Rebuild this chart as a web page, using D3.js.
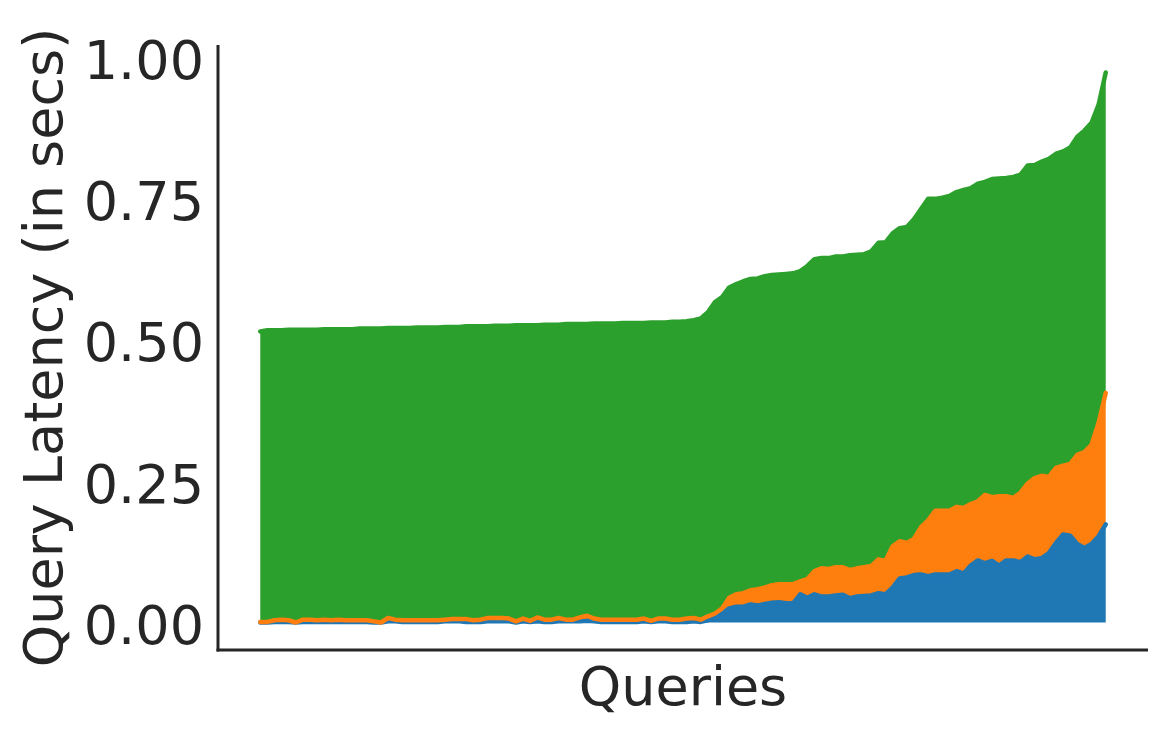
<!DOCTYPE html>
<html><head><meta charset="utf-8">
<script src="https://cdn.jsdelivr.net/npm/d3@7"></script>
<style>body{margin:0;background:#fff}svg{display:block}</style>
</head><body>
<svg id="c" width="1168" height="735"></svg>
<script>
const yTicks = [0, 0.25, 0.5, 0.75, 1.0];
const xLabel = "Queries";
const yLabel = "Query Latency (in secs)";
const seriesNames = ["blue", "orange", "green"];
const seriesColors = ["#1f77b4", "#ff7f0e", "#2ca02c"];

const green = [
0.516,0.518,0.518,0.518,0.519,0.519,0.519,0.519,0.519,0.520,
0.520,0.520,0.520,0.520,0.521,0.521,0.521,0.521,0.522,0.522,
0.522,0.522,0.523,0.523,0.523,0.523,0.524,0.524,0.524,0.525,
0.525,0.525,0.525,0.526,0.526,0.526,0.527,0.527,0.527,0.527,
0.528,0.528,0.528,0.529,0.529,0.529,0.529,0.530,0.530,0.530,
0.530,0.531,0.531,0.531,0.531,0.532,0.532,0.532,0.533,0.533,
0.534,0.536,0.539,0.550,0.568,0.577,0.594,0.600,0.605,0.609,
0.610,0.614,0.616,0.617,0.618,0.619,0.623,0.632,0.644,0.646,
0.646,0.649,0.649,0.651,0.652,0.653,0.658,0.673,0.674,0.690,
0.699,0.701,0.715,0.733,0.751,0.751,0.753,0.756,0.763,0.767,
0.770,0.778,0.781,0.786,0.787,0.788,0.790,0.794,0.810,0.811,
0.817,0.822,0.831,0.835,0.842,0.861,0.872,0.886,0.918,0.975];

const orange = [
0.001,0.001,0.004,0.005,0.004,0.000,0.005,0.005,0.004,0.005,
0.004,0.005,0.004,0.004,0.004,0.004,0.002,0.000,0.008,0.005,
0.004,0.004,0.004,0.004,0.004,0.004,0.005,0.006,0.006,0.006,
0.004,0.005,0.008,0.008,0.008,0.007,0.002,0.007,0.003,0.009,
0.005,0.005,0.008,0.005,0.005,0.009,0.012,0.007,0.005,0.005,
0.005,0.005,0.005,0.005,0.007,0.003,0.007,0.007,0.005,0.005,
0.007,0.008,0.005,0.011,0.016,0.025,0.044,0.050,0.052,0.057,
0.059,0.062,0.066,0.068,0.068,0.068,0.073,0.077,0.091,0.096,
0.095,0.098,0.098,0.093,0.096,0.098,0.100,0.112,0.109,0.135,
0.144,0.141,0.148,0.169,0.181,0.198,0.198,0.198,0.205,0.203,
0.210,0.215,0.226,0.222,0.224,0.224,0.221,0.230,0.246,0.256,
0.260,0.258,0.274,0.278,0.281,0.297,0.302,0.315,0.354,0.407];

const blue = [
0.000,0.000,0.001,0.001,0.001,0.000,0.001,0.001,0.001,0.001,
0.001,0.001,0.001,0.001,0.001,0.001,0.000,0.000,0.002,0.002,
0.001,0.001,0.001,0.001,0.001,0.001,0.002,0.002,0.002,0.001,
0.001,0.001,0.002,0.002,0.002,0.002,0.000,0.002,0.001,0.002,
0.001,0.001,0.002,0.002,0.002,0.002,0.003,0.002,0.001,0.001,
0.001,0.001,0.001,0.001,0.002,0.001,0.002,0.002,0.001,0.001,
0.001,0.002,0.001,0.004,0.010,0.016,0.025,0.028,0.028,0.032,
0.030,0.033,0.035,0.036,0.034,0.034,0.050,0.044,0.050,0.046,
0.046,0.048,0.049,0.043,0.046,0.047,0.048,0.052,0.050,0.062,
0.078,0.080,0.084,0.085,0.082,0.085,0.085,0.085,0.091,0.087,
0.101,0.110,0.105,0.109,0.101,0.110,0.110,0.107,0.117,0.112,
0.114,0.123,0.141,0.156,0.154,0.139,0.132,0.139,0.153,0.174];

const series = [blue, orange, green];
const n = green.length;
const idx = d3.range(n);

const svg = d3.select("#c");
const mLeft = 218, mRight = 1148, mTop = 45, mBottom = 650;
const textColor = "#262626";
const fontFamily = "'DejaVu Sans', sans-serif";

const xPad = (n - 1) * 0.05;
const x = d3.scaleLinear().domain([0 - xPad, n - 1 + xPad]).range([mLeft, mRight]);
const yMax = d3.max(series, s => d3.max(s)), yMin = 0;
const yPad = (yMax - yMin) * 0.05;
const y = d3.scaleLinear().domain([yMin - yPad, yMax + yPad]).range([mBottom, mTop]);

// bands: blue 0..blue, orange blue..orange, green orange..green
const lowers = [idx.map(() => 0), blue, orange];
series.forEach((s, k) => {
  const area = d3.area()
    .x(i => x(i))
    .y0(i => y(lowers[k][i]))
    .y1(i => y(s[i]));
  svg.append("path").datum(idx).attr("d", area)
    .attr("fill", seriesColors[k]).attr("stroke", "none");
});
series.forEach((s, k) => {
  const line = d3.line().x(i => x(i)).y(i => y(s[i]));
  svg.append("path").datum(idx).attr("d", line)
    .attr("fill", "none").attr("stroke", seriesColors[k])
    .attr("stroke-width", 4.5).attr("stroke-linecap", "round").attr("stroke-linejoin", "round");
});

// axes
const yAxis = d3.axisLeft(y).tickValues(yTicks).tickFormat(d3.format(".2f")).tickSize(0).tickPadding(14);
const gy = svg.append("g").attr("transform", `translate(${mLeft},0)`).call(yAxis);
gy.select(".domain").remove();
gy.selectAll("text").attr("font-size", 54).attr("font-family", fontFamily)
  .attr("fill", textColor).attr("dy", "0.38em");

const xAxis = d3.axisBottom(x).tickValues([]).tickSize(0);
const gx = svg.append("g").attr("transform", `translate(0,${mBottom})`).call(xAxis);
gx.select(".domain").remove();

svg.append("line").attr("x1", mLeft).attr("x2", mLeft).attr("y1", mTop).attr("y2", mBottom + 1.5)
  .attr("stroke", textColor).attr("stroke-width", 3);
svg.append("line").attr("x1", mLeft - 1.5).attr("x2", mRight).attr("y1", mBottom).attr("y2", mBottom)
  .attr("stroke", textColor).attr("stroke-width", 3);

svg.append("text").attr("x", (mLeft + mRight) / 2).attr("y", 705)
  .attr("text-anchor", "middle").attr("font-size", 54).attr("font-family", fontFamily)
  .attr("fill", textColor).text(xLabel);
svg.append("text").attr("transform", `translate(62,${(mTop + mBottom) / 2}) rotate(-90)`)
  .attr("text-anchor", "middle").attr("font-size", 54).attr("font-family", fontFamily)
  .attr("fill", textColor).text(yLabel);
</script>
</body></html>
